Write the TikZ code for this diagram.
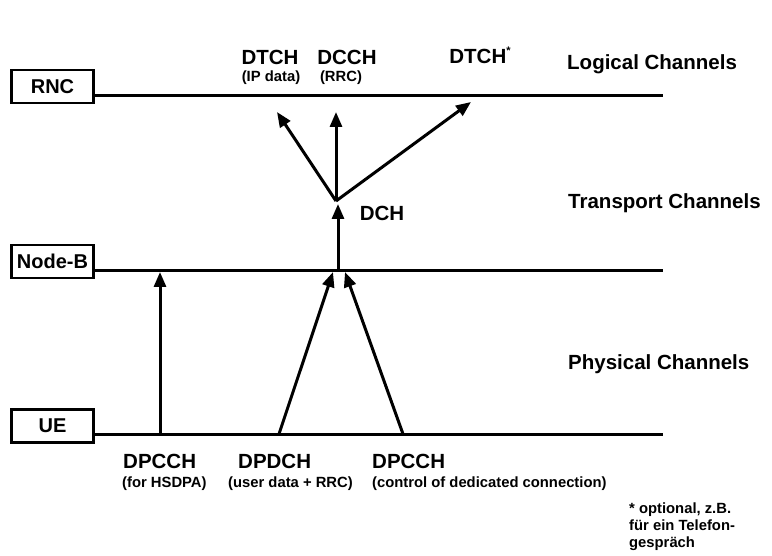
\documentclass[tikz,border=0pt]{standalone}
\usepackage{fontspec}
\setmainfont{Liberation Sans}
\usetikzlibrary{arrows.meta}
\begin{document}
\begin{tikzpicture}[x=1pt,y=-1pt,
  layer/.style={line width=3pt},
  entity/.style={draw,line width=2.4pt,minimum width=82pt,minimum height=33pt,
    inner sep=0pt,font=\fontsize{20}{24}\selectfont\bfseries},
  flow/.style={line width=3pt,-{Triangle[length=15pt,width=12pt]}},
  big/.style={font=\fontsize{20.5}{24}\selectfont\bfseries,inner sep=0pt,anchor=base},
  small/.style={font=\fontsize{14.8}{17}\selectfont\bfseries,inner sep=0pt,anchor=base},
]
\useasboundingbox (0,0) rectangle (772,556);

% network elements
\node[entity] (rnc)   at (52.5,86.5)  {RNC};
\node[entity] (nodeb) at (52.5,261.5) {Node-B};
\node[entity] (ue)    at (52.5,426)   {UE};

% layer lines
\coordinate (rncL) at (94,96);   \coordinate (rncR) at (663,96);
\coordinate (nbL)  at (94,271);  \coordinate (nbR)  at (663,271);
\coordinate (ueL)  at (94,434);  \coordinate (ueR)  at (663,434);
\draw[layer] (rncL) -- (rncR);
\draw[layer] (nbL) -- (nbR);
\draw[layer] (ueL) -- (ueR);

% physical channels
\coordinate (p1) at (160,434);  \coordinate (t1) at (160,272);
\coordinate (p2) at (279,434);  \coordinate (t2) at (333,272);
\coordinate (p3) at (403,434);  \coordinate (t3) at (345,272);
\draw[flow] (p1) -- (t1);
\draw[flow] (p2) -- (t2);
\draw[flow] (p3) -- (t3);

% transport channel
\coordinate (dchB) at (338,271);  \coordinate (dchT) at (338,204);
\draw[flow] (dchB) -- (dchT);

% logical channels
\coordinate (fork) at (336,201);
\coordinate (l1) at (277,112);
\coordinate (l2) at (336,112);
\coordinate (l3) at (471,102);
\draw[flow] (fork) -- (l1);
\draw[flow] (fork) -- (l2);
\draw[flow] (fork) -- (l3);

% channel names
\node[big] (dtch)  at (270,65) {DTCH};
\node[small] (dtchn) at (271,82) {(IP data)};
\node[big] (dcch)  at (347,65) {DCCH};
\node[small] (dcchn) at (341,82) {(RRC)};
\node[big] (dtchs) at (480,64) {DTCH\raisebox{0.45em}{\fontsize{11}{12}\selectfont *}};
\node[big] (dch)   at (382,221) {DCH};

% layer names
\node[big,anchor=base west] (logical)   at (567,70)  {Logical Channels};
\node[big,anchor=base west] (transport) at (568,209) {Transport Channels};
\node[big,anchor=base west] (physical)  at (568,370) {Physical Channels};

% physical channel names
\node[big,anchor=base west]   (dpcch1) at (123,468) {DPCCH};
\node[small,anchor=base west] (dpcch1n) at (122,487) {(for HSDPA)};
\node[big,anchor=base west]   (dpdch) at (238,468) {DPDCH};
\node[small,anchor=base west] (dpdchn) at (228,487) {(user data + RRC)};
\node[big,anchor=base west]   (dpcch2) at (372,468) {DPCCH};
\node[small,anchor=base west] (dpcch2n) at (372,487) {(control of dedicated connection)};

% footnote (base anchor sits on the last line)
\node[small,anchor=base west,align=left] (note) at (629,547)
  {* optional, z.B.\\ für ein Telefon-\\ gespräch};
\end{tikzpicture}
\end{document}
